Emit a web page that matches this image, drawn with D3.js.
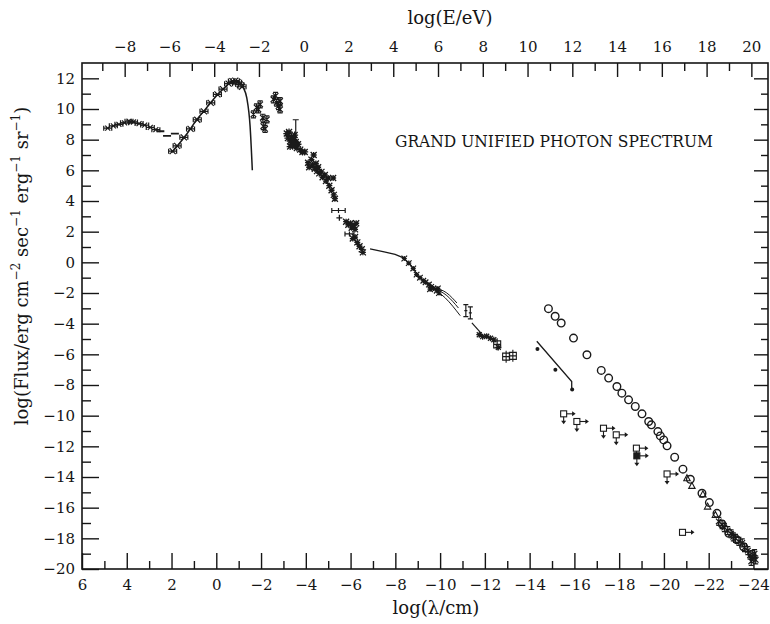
<!DOCTYPE html>
<html><head><meta charset="utf-8">
<script src="https://cdn.jsdelivr.net/npm/d3@7"></script>
<style>
body{margin:0;background:#fff;}
svg{display:block;background:#fff;}
.axis text{font-family:"DejaVu Serif",serif;font-size:15px;fill:#151515;}
.axis path{display:none;}
.axis line{stroke:#151515;stroke-width:1.4;}
.lbl{font-family:"DejaVu Serif",serif;fill:#151515;}
</style></head><body>
<svg id="c" width="770" height="624"></svg>
<script>
// ---------------- DATA (log10 lambda/cm, log10 flux) ----------------
const xMajor = [6,4,2,0,-2,-4,-6,-8,-10,-12,-14,-16,-18,-20,-22,-24];
const xMinor = [5,3,1,-1,-3,-5,-7,-9,-11,-13,-15,-17,-19,-21,-23];
const eMajor = [-8,-6,-4,-2,0,2,4,6,8,10,12,14,16,18,20];
const eMinor = [-9,-7,-5,-3,-1,1,3,5,7,9,11,13,15,17,19];
const yMajor = [12,10,8,6,4,2,0,-2,-4,-6,-8,-10,-12,-14,-16,-18,-20];
const yMinor = [11,9,7,5,3,1,-1,-3,-5,-7,-9,-11,-13,-15,-17,-19];

const radio = [[4.85,8.75],[4.6,8.9],[4.35,9.0],[4.1,9.1],[3.9,9.2],[3.7,9.15],[3.45,9.05],[3.2,8.95],[2.95,8.8],[2.7,8.65]];
const radioDash = [[2.5,8.55],[2.2,8.25],[1.85,8.4]];
const cmbCurve = [[2.0,7.15],[1.65,7.75],[1.3,8.4],[0.9,9.25],[0.45,10.05],[0.0,10.85],[-0.45,11.5],[-0.7,11.8],[-0.88,11.85],[-1.05,11.7],[-1.21,11.39],[-1.36,10.74],[-1.51,8.88],[-1.61,6.0]];
const cmbMarks = [[1.95,7.25],[1.75,7.6],[1.45,8.15],[1.15,8.7],[0.85,9.3],[0.55,9.85],[0.25,10.4],[-0.05,10.95],[-0.3,11.3],[-0.55,11.65],[-0.72,11.82],[-0.85,11.85],[-0.95,11.75],[-1.05,11.6],[-1.15,11.45]];
const irPts = [[-1.66,9.65],[-1.8,10.1],[-1.88,9.97],[-1.96,10.3],[-2.08,9.43],[-2.26,9.32],[-2.1,8.88],[-2.18,8.71],[-2.55,10.63],[-2.7,10.41],[-2.85,10.52],[-2.85,9.97],[-2.78,10.19],[-2.65,10.85]];
const optPts = [[-3.15,8.4],[-3.2,8.1],[-3.25,8.5],[-3.3,7.9],[-3.35,8.2],[-3.4,7.7],[-3.45,8.0],[-3.5,7.6],[-3.55,7.85],[-3.6,7.45],[-3.65,7.7],[-3.75,7.35],[-3.85,7.2],[-3.95,7.2],[-3.3,7.55],[-3.5,8.3]];
const optErr = [[-3.55,7.8,9.3]];
const uvPts = [[-4.1,6.5],[-4.15,6.2],[-4.25,6.7],[-4.3,6.35],[-4.35,7.0],[-4.4,6.1],[-4.45,6.45],[-4.5,5.95],[-4.55,6.2],[-4.6,5.8],[-4.7,5.9],[-4.75,5.55],[-4.85,5.7],[-4.9,5.3],[-5.0,5.5],[-5.05,5.0],[-5.15,4.7],[-5.22,5.5],[-5.25,4.4],[-5.3,4.15]];
const euvH = [[-5.46,3.38,0.3],[-5.95,1.85,0.2]];
const euvPts = [[-5.5,2.9]];
const sxPts = [[-5.8,2.65],[-5.9,2.45],[-6.0,2.55],[-6.05,2.25],[-6.15,2.4],[-6.25,2.55],[-6.2,2.15],[-6.1,1.55],[-6.2,1.65],[-6.3,1.3],[-6.4,1.05],[-6.5,0.85],[-6.55,0.65]];
const xrayLine = [[-6.87,0.88],[-7.5,0.68],[-7.99,0.52],[-8.36,0.29],[-8.73,-0.26],[-9.03,-0.91],[-9.4,-1.35],[-9.78,-1.67]];
const xrayBranchA = [[-9.78,-1.67],[-10.3,-2.0],[-10.75,-2.65]];
const xrayBranchB = [[-9.78,-1.72],[-10.3,-2.17],[-10.82,-2.98]];
const xrayBranchC = [[-9.78,-1.78],[-10.23,-2.32],[-10.9,-3.48]];
const xrayPts = [[-8.4,0.25],[-8.6,-0.05],[-8.8,-0.4],[-8.95,-0.8],[-9.1,-1.0],[-9.25,-1.2],[-9.35,-1.3],[-9.5,-1.45],[-9.6,-1.6],[-9.7,-1.7],[-9.85,-1.85],[-9.95,-2.0],[-9.55,-1.75],[-9.9,-1.7]];
const gapPts = [[-11.15,-3.15],[-11.35,-3.3]];
const gammaLine = [[-11.42,-3.95],[-11.85,-4.65]];
const gammaPts = [[-11.75,-4.72],[-11.9,-4.85],[-12.08,-4.82],[-12.25,-4.95],[-12.4,-5.05],[-12.6,-5.55]];
const gammaBoxes = [[-12.55,-5.35],[-12.95,-6.15],[-13.25,-6.1]];
const heLine = [[-14.32,-5.15],[-15.88,-7.77],[-15.88,-8.3]];
const heDots = [[-14.35,-5.65],[-15.15,-7.0],[-15.9,-8.3]];
const circles = [[-14.84,-3.02],[-15.14,-3.52],[-15.41,-3.96],[-15.96,-4.94],[-16.56,-6.03],[-17.2,-7.05],[-17.53,-7.55],[-17.9,-8.1],[-18.12,-8.53],[-18.42,-8.97],[-18.72,-9.4],[-19.02,-9.88],[-19.32,-10.38],[-19.44,-10.6],[-19.73,-11.04],[-19.84,-11.32],[-19.99,-11.58],[-20.14,-11.97],[-20.48,-12.71],[-20.85,-13.49],[-21.18,-14.15],[-21.7,-15.06],[-22.03,-15.67],[-22.37,-16.37],[-22.6,-17.07],[-22.9,-17.67],[-23.26,-18.1],[-23.56,-18.55],[-23.93,-19.03]];
const triangles = [[-21.03,-14.08],[-21.25,-14.58],[-21.74,-15.13],[-21.95,-15.93],[-22.3,-16.48]];
const upperLimits = [[-15.52,-9.88],[-16.11,-10.38],[-17.3,-10.82],[-17.87,-11.25],[-18.77,-12.12],[-18.79,-12.62],[-20.14,-13.8],[-20.83,-17.61]];
const endCluster = [[-22.45,-16.9],[-22.6,-17.1],[-22.7,-17.3],[-22.85,-17.5],[-23.0,-17.7],[-23.1,-17.9],[-23.2,-18.0],[-23.35,-18.2],[-23.5,-18.3],[-23.6,-18.6],[-23.75,-18.8],[-23.85,-19.1],[-23.95,-19.2],[-24.05,-19.0],[-23.9,-19.5],[-24.1,-19.4]];

// ---------------- SCALES ----------------
const svg = d3.select("#c");
const X0=82, X1=768, Y0=63, Y1=569;
const x = d3.scaleLinear().domain([6,-24.65]).range([X0,X1]);
const y = d3.scaleLinear().domain([-20,13]).range([Y1,Y0]);
const hcLog = Math.log10(1.23984e-4);
const xE = d3.scaleLinear().domain([hcLog-6, hcLog+24.65]).range([X0,X1]);
const fmt = d => d < 0 ? "\u2212" + Math.abs(d) : String(d);

// ---------------- AXES ----------------
function ax(gen, tr){ return svg.append("g").attr("class","axis").attr("transform",tr).call(gen); }
ax(d3.axisBottom(x).tickValues(xMajor).tickSize(-16).tickPadding(10).tickFormat(fmt), `translate(0,${Y1})`);
ax(d3.axisBottom(x).tickValues(xMinor).tickSize(-8).tickFormat(""), `translate(0,${Y1})`);
ax(d3.axisTop(xE).tickValues(eMajor).tickSize(-14).tickPadding(11).tickFormat(fmt), `translate(0,${Y0})`);
ax(d3.axisTop(xE).tickValues(eMinor).tickSize(-8).tickFormat(""), `translate(0,${Y0})`);
ax(d3.axisLeft(y).tickValues(yMajor).tickSize(-17).tickPadding(7).tickFormat(fmt), `translate(${X0},0)`);
ax(d3.axisLeft(y).tickValues(yMinor).tickSize(-9).tickFormat(""), `translate(${X0},0)`);
ax(d3.axisRight(y).tickValues(yMajor).tickSize(-14).tickFormat(""), `translate(${X1},0)`);
ax(d3.axisRight(y).tickValues(yMinor).tickSize(-7).tickFormat(""), `translate(${X1},0)`);

svg.append("rect").attr("x",X0).attr("y",Y0).attr("width",X1-X0).attr("height",Y1-Y0)
  .attr("fill","none").attr("stroke","#151515").attr("stroke-width",1.6);

// ---------------- MARK HELPERS ----------------
const INK = "#1a1a1a";
const P = d => [x(d[0]), y(d[1])];
const crossD = (p,s) => `M${p[0]-s},${p[1]-s}L${p[0]+s},${p[1]+s}M${p[0]-s},${p[1]+s}L${p[0]+s},${p[1]-s}`;
const plusD = (p,s) => `M${p[0]-s},${p[1]}L${p[0]+s},${p[1]}M${p[0]},${p[1]-s}L${p[0]},${p[1]+s}`;
const hbarD = (p,w) => `M${p[0]-w},${p[1]}L${p[0]+w},${p[1]}M${p[0]-w},${p[1]-2.5}L${p[0]-w},${p[1]+2.5}M${p[0]+w},${p[1]-2.5}L${p[0]+w},${p[1]+2.5}`;
const vbarD = (p,h) => `M${p[0]},${p[1]-h}L${p[0]},${p[1]+h}M${p[0]-2.5},${p[1]-h}L${p[0]+2.5},${p[1]-h}M${p[0]-2.5},${p[1]+h}L${p[0]+2.5},${p[1]+h}`;
function pathOf(str, w){ return svg.append("path").attr("d",str).attr("fill","none").attr("stroke",INK).attr("stroke-width",w||1.2); }
const line = d3.line().x(d=>x(d[0])).y(d=>y(d[1]));
const smooth = d3.line().x(d=>x(d[0])).y(d=>y(d[1])).curve(d3.curveMonotoneX);

// radio
pathOf(radio.map(d=>crossD(P(d),2.5)+hbarD(P(d),4)).join(""),1.2);
pathOf(radioDash.map(d=>`M${x(d[0])-4},${y(d[1])}L${x(d[0])+4},${y(d[1])}`).join(""),1.8);
// CMB
pathOf(smooth(cmbCurve),1.5);
pathOf(cmbMarks.map(d=>crossD(P(d),3)+hbarD(P(d),4)).join(""),1.2);
// IR
pathOf(irPts.map(d=>crossD(P(d),2.8)+vbarD(P(d),3.5)).join(""),1.2);
// optical
pathOf(optPts.map(d=>crossD(P(d),3)+plusD(P(d),3.5)).join(""),1.3);
pathOf(optErr.map(d=>`M${x(d[0])},${y(d[1])}L${x(d[0])},${y(d[2])}M${x(d[0])-3},${y(d[2])}L${x(d[0])+3},${y(d[2])}`).join(""),1.2);
// UV
pathOf(uvPts.map(d=>crossD(P(d),3)+plusD(P(d),3)).join(""),1.3);
// EUV / soft X
pathOf(euvH.map(d=>{const p=P(d); const w=x(d[0]-d[2])-x(d[0]); return hbarD(p,w)+plusD(p,2.5);}).join(""),1.2);
pathOf(euvPts.map(d=>plusD(P(d),3)).join(""),1.3);
pathOf(sxPts.map(d=>crossD(P(d),3)+plusD(P(d),3)).join(""),1.3);
// X-ray
pathOf(line(xrayLine),1.3);
pathOf(smooth(xrayBranchA),1.0);
pathOf(smooth(xrayBranchB),1.0);
pathOf(smooth(xrayBranchC),1.0);
pathOf(xrayPts.map(d=>crossD(P(d),2.8)+plusD(P(d),2.5)).join(""),1.2);
pathOf(gapPts.map(d=>vbarD(P(d),6)+plusD(P(d),1.5)).join(""),1.2);
// gamma
pathOf(line(gammaLine),1.2);
pathOf(gammaPts.map(d=>crossD(P(d),2.5)+plusD(P(d),3)).join(""),1.2);
pathOf(gammaBoxes.map(d=>{const p=P(d); return `M${p[0]-3.5},${p[1]-3.5}h7v7h-7zM${p[0]-3.5},${p[1]}h7M${p[0]},${p[1]-6}v12`;}).join(""),1.1);
pathOf(line(heLine),1.3);
svg.append("g").selectAll("circle").data(heDots).join("circle")
  .attr("cx",d=>x(d[0])).attr("cy",d=>y(d[1])).attr("r",2).attr("fill",INK);
// circles
svg.append("g").selectAll("circle").data(circles).join("circle")
  .attr("cx",d=>x(d[0])).attr("cy",d=>y(d[1])).attr("r",3.8)
  .attr("fill","none").attr("stroke",INK).attr("stroke-width",1.4);
// triangles
pathOf(triangles.map(d=>{const p=P(d); return `M${p[0]},${p[1]-3.5}L${p[0]+3.2},${p[1]+2.5}L${p[0]-3.2},${p[1]+2.5}Z`;}).join(""),1.1);
// end cluster
pathOf(endCluster.map(d=>crossD(P(d),2.8)+vbarD(P(d),4)).join(""),1.2);
// upper limits: squares with right and down arrows
const ul = svg.append("g");
upperLimits.forEach((d,i)=>{
  const p=P(d);
  ul.append("rect").attr("x",p[0]-3).attr("y",p[1]-3).attr("width",6).attr("height",6)
    .attr("fill", i===5 ? INK : "none").attr("stroke",INK).attr("stroke-width",1.1);
  ul.append("path").attr("d",`M${p[0]+3},${p[1]}h7`).attr("stroke",INK).attr("stroke-width",1.1);
  ul.append("path").attr("d",`M${p[0]+12},${p[1]}l-3.5,-2.5v5z`).attr("fill",INK);
  if(i!==upperLimits.length-1){
    ul.append("path").attr("d",`M${p[0]},${p[1]+3}v5`).attr("stroke",INK).attr("stroke-width",1.1);
    ul.append("path").attr("d",`M${p[0]},${p[1]+10.5}l-2.5,-3.5h5z`).attr("fill",INK);
  }
});

// ---------------- TEXT ----------------
svg.append("text").attr("class","lbl").attr("x",395).attr("y",147).attr("font-size",16)
  .attr("textLength",318).attr("lengthAdjust","spacingAndGlyphs").text("GRAND UNIFIED PHOTON SPECTRUM");
svg.append("text").attr("class","lbl").attr("x",436).attr("y",614).attr("font-size",18)
  .attr("text-anchor","middle").text("log(\u03bb/cm)");
svg.append("text").attr("class","lbl").attr("x",450).attr("y",24).attr("font-size",18)
  .attr("text-anchor","middle").text("log(E/eV)");
const yt = svg.append("text").attr("class","lbl").attr("font-size",18)
  .attr("transform","translate(28,266) rotate(-90)").attr("text-anchor","middle");
const parts = [["log(Flux/erg cm",0],["\u22122",1],[" sec",0],["\u22121",1],[" erg",0],["\u22121",1],[" sr",0],["\u22121",1],[")",0]];
parts.forEach(([t,s],i)=>{
  const prev = i>0 ? parts[i-1][1] : 0;
  const ts = yt.append("tspan").text(t);
  if(s) ts.attr("font-size",12);
  ts.attr("dy", s && !prev ? -8 : (!s && prev ? 8 : 0));
});
</script></body></html>
